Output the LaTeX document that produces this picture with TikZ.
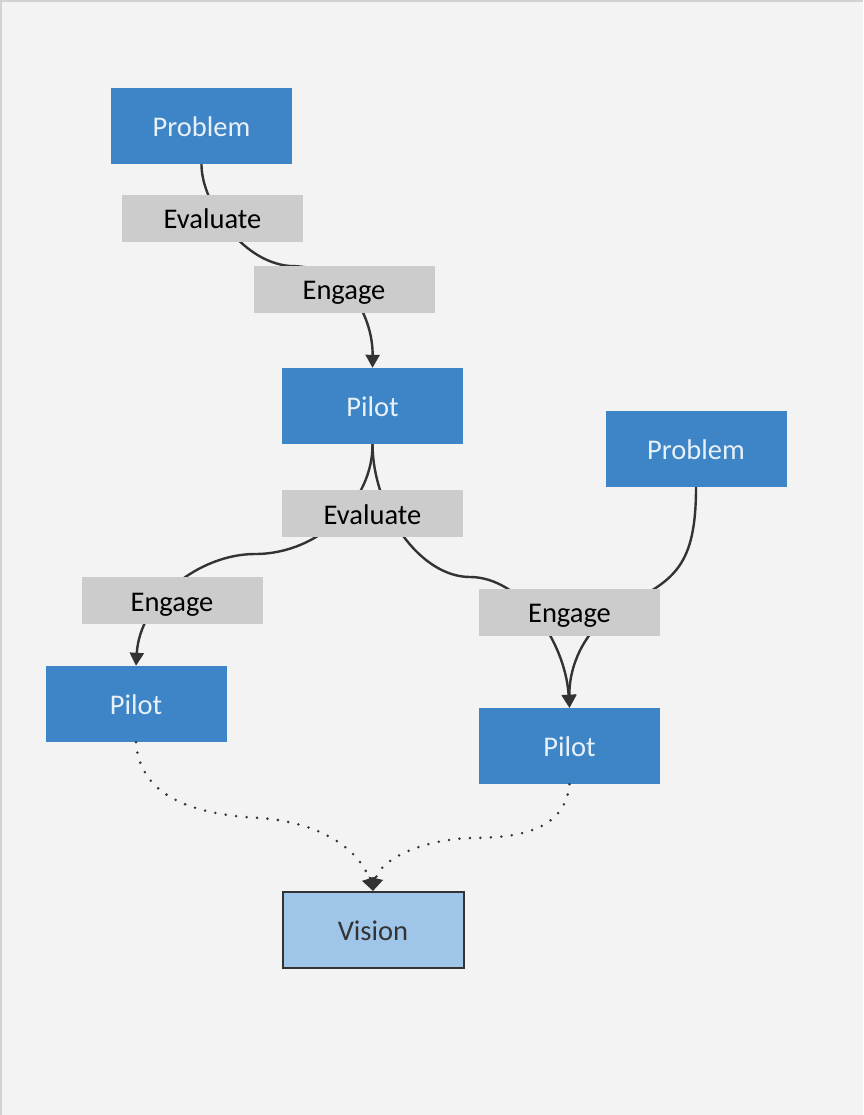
\documentclass[tikz,border=0pt]{standalone}
\usepackage{fontspec}
\setmainfont{Carlito}
\usetikzlibrary{arrows.meta}
\definecolor{stepblue}{HTML}{3D85C6}
\definecolor{visionblue}{HTML}{9FC5E8}
\definecolor{labelgray}{HTML}{CCCCCC}
\definecolor{linegray}{HTML}{333333}
\definecolor{canvas}{HTML}{F3F3F3}
\definecolor{framegray}{HTML}{D2D2D2}
\definecolor{paletext}{HTML}{E8F0F8}
\begin{document}
\begin{tikzpicture}[x=1pt,y=-1pt,
  font=\fontsize{28.5}{34}\selectfont,
  box/.style={rectangle,inner sep=0pt,text height=24pt,text depth=3pt,
    minimum width=181pt,minimum height=76pt},
  main node/.style={box,fill=stepblue,text=paletext},
  goal node/.style={box,fill=visionblue,draw=linegray,line width=2pt,text=linegray},
  label node/.style={box,minimum height=47pt,fill=labelgray,text=black},
  flow/.style={draw=linegray,line width=2.4pt},
  tip/.style={-{Triangle[length=13pt,width=14pt]}},
  hint/.style={flow,line width=2.8pt,line cap=round,dash pattern=on 0pt off 10.5pt}]

  % canvas
  \fill[canvas] (0,0) rectangle (863,1115);
  \useasboundingbox (0,0) rectangle (863,1115);
  \draw[framegray,line width=2pt] (1,1115) -- (1,1) -- (863,1);

  % steps
  \node[main node] (prob1) at (201.5,126) {Problem};
  \node[main node] (pilot1) at (372.5,406) {Pilot};
  \node[main node] (prob2) at (696,449) {Problem};
  \node[main node] (pilot2) at (136,704) {Pilot};
  \node[main node] (pilot3) at (569.5,746) {Pilot};
  \node[goal node] (vision) at (373,930) {Vision};

  % solid links
  \path[flow,tip] (prob1.south) .. controls (201,200) and (240,262) .. (290,266)
    .. controls (350,266) and (373,320) .. (pilot1.north);
  \path[flow,tip] (pilot1.south) .. controls (373,500) and (320,554) .. (255,554)
    .. controls (200,554) and (140,600) .. (pilot2.north);
  \path[flow,tip] (pilot1.south) .. controls (373,510) and (420,577) .. (470,577)
    .. controls (520,577) and (565,640) .. (pilot3.north);
  \path[flow,tip] (prob2.south) .. controls (696,565) and (675,580) .. (625,605)
    .. controls (590,622) and (569,660) .. (pilot3.north);

  % dotted links
  \path[hint,tip] (pilot2.south) .. controls (140,800) and (200,815) .. (260,818)
    .. controls (320,822) and (360,850) .. (vision.north);
  \path[hint,tip] (pilot3.south) .. controls (565,830) and (520,838) .. (470,838)
    .. controls (420,840) and (380,860) .. (vision.north);

  % link labels
  \node[label node] (eval1) at (212.5,218.5) {Evaluate};
  \node[label node] (eng1) at (344,289) {Engage};
  \node[label node] (eval2) at (372.5,513.5) {Evaluate};
  \node[label node] (eng2) at (172,600.5) {Engage};
  \node[label node] (eng3) at (569.5,612) {Engage};
\end{tikzpicture}
\end{document}
